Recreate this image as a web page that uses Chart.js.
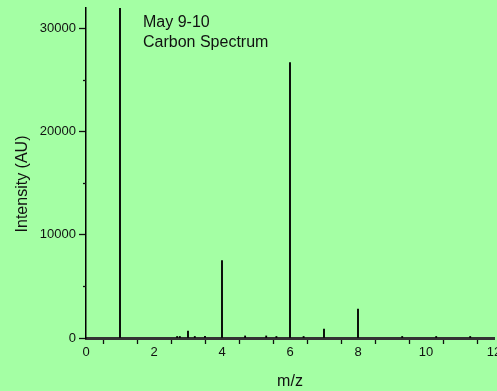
<!DOCTYPE html>
<html>
<head>
<meta charset="utf-8">
<script src="https://cdn.jsdelivr.net/npm/chart.js@4"></script>
<style>
  html, body { margin: 0; padding: 0; background: #a4ffa4; }
  #wrap { width: 497px; height: 391px; }
</style>
</head>
<body>
<div id="wrap"><canvas id="myChart" width="497" height="391"></canvas></div>
<script>
// peak positions (m/z) and intensities
const mz = [1, 2.68, 2.76, 3, 3.2, 3.5, 4, 4.68, 5.3, 5.6, 6, 6.4, 7, 8, 9.3, 10.3, 11.3];
const intensity = [32000, 150, 150, 680, 150, 150, 7500, 200, 200, 150, 26700, 150, 870, 2800, 150, 150, 150];
const xTicks = [0, 1, 2, 3, 4, 5, 6, 7, 8, 9, 10, 11, 12];
const yTicks = [0, 5000, 10000, 15000, 20000, 25000, 30000];
const noteLines = ["May 9-10", "Carbon Spectrum"];
const xTitle = "m/z";
const yTitle = "Intensity (AU)";

const fontFam = "Arial, 'Liberation Sans', sans-serif";

// text annotation, rotated y title, short minor y ticks
const textPlugin = {
  id: "textPlugin",
  afterDraw(chart) {
    const ctx = chart.ctx;
    const ys = chart.scales.y;
    ctx.save();
    ctx.strokeStyle = "#111";
    ctx.lineWidth = 1.3;
    yTicks.filter((v) => v % 10000 !== 0).forEach((v) => {
      const py = Math.round(ys.getPixelForValue(v)) + 0.5;
      ctx.beginPath();
      ctx.moveTo(ys.right - 3, py);
      ctx.lineTo(ys.right, py);
      ctx.stroke();
    });
    ctx.fillStyle = "#111";
    ctx.font = "16px " + fontFam;
    ctx.textAlign = "left";
    ctx.textBaseline = "alphabetic";
    noteLines.forEach((t, i) => {
      ctx.fillText(t, 143, 27 + i * 20);
    });
    ctx.translate(23, 184);
    ctx.rotate(-Math.PI / 2);
    ctx.textAlign = "center";
    ctx.textBaseline = "middle";
    ctx.fillText(yTitle, 0, 0);
    ctx.restore();
  }
};

let ctx = document.getElementById("myChart").getContext("2d");
let myChart = new Chart(ctx, {
  type: "bar",
  data: {
    datasets: [
      {
        data: mz.map((x, i) => ({ x: x, y: intensity[i] })),
        backgroundColor: "#000",
        borderWidth: 0,
        barThickness: 1.2,
      },
    ],
  },
  options: {
    responsive: false,
    animation: false,
    layout: { padding: { top: 8, right: 3, left: 0, bottom: 0 } },
    plugins: { legend: { display: false }, tooltip: { enabled: false } },
    scales: {
      x: {
        type: "linear",
        min: 0,
        max: 12,
        offset: false,
        afterBuildTicks: (s) => { s.ticks = xTicks.map((v) => ({ value: v })); },
        afterFit: (s) => { s.height = 53; s.paddingLeft = 0; s.paddingRight = 0; },
        border: { display: true, color: "#333", width: 3 },
        grid: { drawOnChartArea: false, drawTicks: true, tickLength: 6, tickColor: "#111", tickWidth: 1.3 },
        ticks: {
          autoSkip: false,
          maxRotation: 0,
          padding: 1,
          color: "#111",
          font: { size: 13, family: fontFam },
          callback: (v) => (v % 2 === 0 ? String(v) : ""),
        },
        title: {
          display: true,
          text: xTitle,
          color: "#111",
          font: { size: 16, family: fontFam },
          padding: { top: 0, bottom: 0 },
        },
      },
      y: {
        min: 0,
        max: 32000,
        afterBuildTicks: (s) => { s.ticks = yTicks.map((v) => ({ value: v })); },
        afterFit: (s) => { s.width = 86; s.paddingTop = 0; s.paddingBottom = 0; },
        border: { display: true, color: "#000", width: 1.5 },
        grid: {
          drawOnChartArea: false,
          drawTicks: true,
          tickLength: 7,
          tickWidth: 1.3,
          tickColor: (c) => (c.tick && c.tick.value % 10000 === 0 ? "#111" : "rgba(0,0,0,0)"),
        },
        ticks: {
          autoSkip: false,
          padding: 3,
          color: "#111",
          font: { size: 13, family: fontFam },
          callback: (v) => (v % 10000 === 0 ? String(v) : ""),
        },
      },
    },
  },
  plugins: [textPlugin],
});
</script>
</body>
</html>
